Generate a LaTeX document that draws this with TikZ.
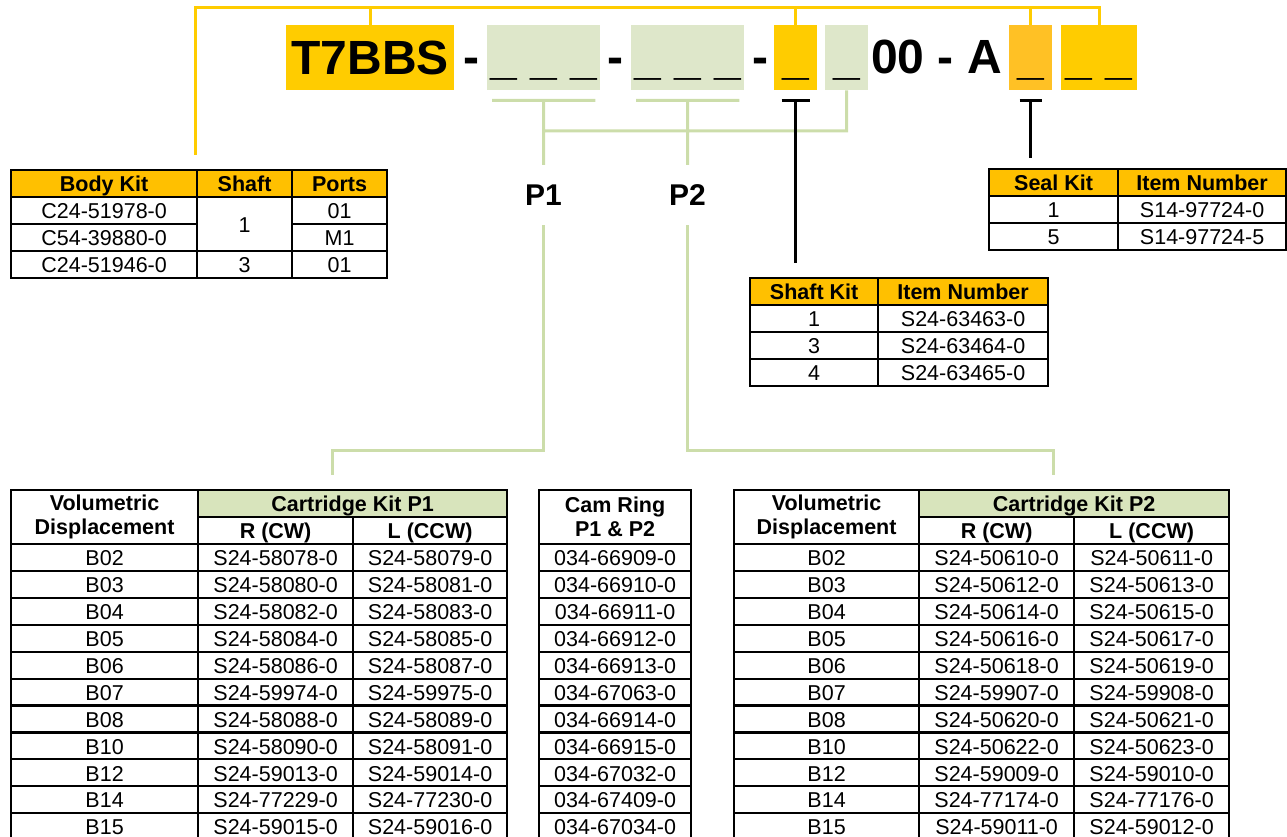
\documentclass[tikz,border=0pt]{standalone}
\usepackage{fontspec}
\setmainfont{Liberation Sans}

\definecolor{kitgold}{HTML}{FFC000}
\definecolor{codegold}{HTML}{FFCC00}
\definecolor{sealgold}{HTML}{FFC125}
\definecolor{codegreen}{HTML}{DEE7CA}
\definecolor{headgreen}{HTML}{D8E4BC}
\definecolor{wiregreen}{HTML}{CCDDAA}

\tikzset{
	cell/.style={draw, line width=2.2pt, anchor=north west, minimum height=27pt, inner sep=0pt, align=center, font=\fontsize{21.5pt}{24pt}\selectfont},
	fixcell/.style={cell, text height=16.5pt, text depth=0pt},
	rowcell/.style={fixcell, minimum height=26.9pt},
	boldcell/.style={fixcell, font=\fontsize{21.5pt}{24pt}\selectfont\bfseries},
	twolinecell/.style={cell, minimum height=54pt, font=\fontsize{21.5pt}{24pt}\selectfont\bfseries},
	headcell/.style={boldcell, fill=kitgold},
	greencell/.style={boldcell, fill=headgreen},
	codebox/.style={anchor=north west, minimum height=65pt, inner sep=0pt, text height=33pt, text depth=0pt, font=\fontsize{48pt}{50pt}\selectfont\bfseries},
	codetext/.style={inner sep=0pt, text height=33pt, text depth=0pt, font=\fontsize{48pt}{50pt}\selectfont\bfseries},
	plabel/.style={inner sep=0pt, minimum height=60pt, font=\fontsize{30pt}{32pt}\selectfont\bfseries},
	goldwire/.style={codegold, line width=3pt},
	greenwire/.style={wiregreen, line width=3pt},
	blackwire/.style={black, line width=2.5pt}
}

\begin{document}
\begin{tikzpicture}[x=1pt, y=-1pt]
	\useasboundingbox (0,0) rectangle (1287,837);

	% model code
	\node[codebox, fill=codegold, minimum width=168pt]	(t7bbs)		at (286,25)		{T7BBS};
	\node[codetext]										(dasha)		at (471.5,57.5)	{-};
	\node[codebox, fill=codegreen, minimum width=113pt]	(pone)		at (487,25)		{\_ \_ \_};
	\node[codetext]										(dashb)		at (615.5,57.5)	{-};
	\node[codebox, fill=codegreen, minimum width=113pt]	(ptwo)		at (631,25)		{\_ \_ \_};
	\node[codetext]										(dashc)		at (760.5,57.5)	{-};
	\node[codebox, fill=codegold, minimum width=43pt]	(shaftsel)	at (774,25)		{\_};
	\node[codebox, fill=codegreen, minimum width=43pt]	(ringsel)	at (825,25)		{\_};
	\node[codetext]										(midcode)	at (936.5,57.5)	{00 - A};
	\node[codebox, fill=sealgold, minimum width=43pt]	(sealsel)	at (1009,25)	{\_};
	\node[codebox, fill=codegold, minimum width=76pt]	(tailsel)	at (1061,25)	{\_ \_};

	\node[plabel]	(ponelbl)	at (543.5,195)	{P1};
	\node[plabel]	(ptwolbl)	at (687.5,195)	{P2};

	% connectors
	\coordinate (ybar)		at (0,8);
	\coordinate (bodytop)	at (195,155);
	\draw[goldwire]	(bodytop) |- (tailsel.north |- ybar) -- (tailsel.north)
					(t7bbs.north) -- (t7bbs.north |- ybar)
					(shaftsel.north) -- (shaftsel.north |- ybar)
					(sealsel.north) -- (sealsel.north |- ybar);

	\coordinate (gbus)		at (0,131);
	\coordinate (ponefoot)	at (332,475);
	\coordinate (ptwofoot)	at (1053,475);
	\draw[greenwire]	([xshift=5pt,yshift=-10pt]pone.south west) to ([xshift=-5pt,yshift=-10pt]pone.south east)
						([xshift=5pt,yshift=-10pt]ptwo.south west) to ([xshift=-5pt,yshift=-10pt]ptwo.south east)
						([yshift=-10pt]pone.south) to (ponelbl.north)
						([yshift=-10pt]ptwo.south) to (ptwolbl.north)
						(ringsel.south) |- (ponelbl.north |- gbus);
	\draw[greenwire]	(ponelbl.south) |- ([yshift=25pt]ponefoot) to (ponefoot);
	\draw[greenwire]	(ptwolbl.south) |- ([yshift=25pt]ptwofoot) to (ptwofoot);

	\coordinate (shafttee)	at ([yshift=-10pt]shaftsel.south);
	\coordinate (shaftfoot)	at (shafttee |- 0,263);
	\coordinate (sealtee)	at ([yshift=-10pt]sealsel.south);
	\coordinate (sealfoot)	at (sealtee |- 0,158);
	\draw[blackwire]	(shafttee) ++(-14,0) to ++(28,0)
						(shafttee) to (shaftfoot)
						(sealtee) ++(-11,0) to ++(22,0)
						(sealtee) to (sealfoot);

	% body kit
	\node[headcell, minimum width=186pt]	(bodyhead)	at (10,169)		{Body Kit};
	\node[headcell, minimum width=95pt]		(shafthead)	at (196,169)	{Shaft};
	\node[headcell, minimum width=95pt]		(portshead)	at (291,169)	{Ports};
	\node[fixcell, minimum width=186pt]		(bodya)		at (10,196)		{C24-51978-0};
	\node[fixcell, minimum width=186pt]		(bodyb)		at (10,223)		{C54-39880-0};
	\node[fixcell, minimum width=186pt]		(bodyc)		at (10,250)		{C24-51946-0};
	\node[fixcell, minimum width=95pt, minimum height=54pt]	(shaftab)	at (196,196)	{1};
	\node[fixcell, minimum width=95pt]		(shaftc)	at (196,250)	{3};
	\node[fixcell, minimum width=95pt]		(portsa)	at (291,196)	{01};
	\node[fixcell, minimum width=95pt]		(portsb)	at (291,223)	{M1};
	\node[fixcell, minimum width=95pt]		(portsc)	at (291,250)	{01};

	% seal kit
	\node[headcell, minimum width=129pt]	(sealhead)	at (988,168)	{Seal Kit};
	\node[headcell, minimum width=168pt]	(sealitem)	at (1117,168)	{Item Number};
	\node[fixcell, minimum width=129pt]		(seala)		at (988,195)	{1};
	\node[fixcell, minimum width=168pt]		(sealnra)	at (1117,195)	{S14-97724-0};
	\node[fixcell, minimum width=129pt]		(sealb)		at (988,222)	{5};
	\node[fixcell, minimum width=168pt]		(sealnrb)	at (1117,222)	{S14-97724-5};

	% shaft kit
	\node[headcell, minimum width=128pt]	(shaftkit)	at (749,277)	{Shaft Kit};
	\node[headcell, minimum width=170pt]	(shaftitem)	at (877,277)	{Item Number};
	\node[fixcell, minimum width=128pt]		(shafta)	at (749,304)	{1};
	\node[fixcell, minimum width=170pt]		(shaftnra)	at (877,304)	{S24-63463-0};
	\node[fixcell, minimum width=128pt]		(shaftb)	at (749,331)	{3};
	\node[fixcell, minimum width=170pt]		(shaftnrb)	at (877,331)	{S24-63464-0};
	\node[fixcell, minimum width=128pt]		(shaftd)	at (749,358)	{4};
	\node[fixcell, minimum width=170pt]		(shaftnrd)	at (877,358)	{S24-63465-0};

	% cartridge kits and cam ring
	\node[twolinecell, minimum width=187pt]	(onevd)		at (10,489)		{Volumetric\\Displacement};
	\node[greencell, minimum width=309pt]	(onekit)	at (197,489)	{Cartridge Kit P1};
	\node[boldcell, minimum width=155pt]	(onecw)		at (197,516)	{R (CW)};
	\node[boldcell, minimum width=154pt]	(oneccw)	at (352,516)	{L (CCW)};
	\node[twolinecell, minimum width=152pt]	(camhead)	at (538,489)	{Cam Ring\\P1 \& P2};
	\node[twolinecell, minimum width=185pt]	(twovd)		at (733,489)	{Volumetric\\Displacement};
	\node[greencell, minimum width=310pt]	(twokit)	at (918,489)	{Cartridge Kit P2};
	\node[boldcell, minimum width=155pt]	(twocw)		at (918,516)	{R (CW)};
	\node[boldcell, minimum width=155pt]	(twoccw)	at (1073,516)	{L (CCW)};

	\foreach \vd/\ra/\la/\cam/\rb/\lb [count=\i from 0] in {
		B02/S24-58078-0/S24-58079-0/034-66909-0/S24-50610-0/S24-50611-0,
		B03/S24-58080-0/S24-58081-0/034-66910-0/S24-50612-0/S24-50613-0,
		B04/S24-58082-0/S24-58083-0/034-66911-0/S24-50614-0/S24-50615-0,
		B05/S24-58084-0/S24-58085-0/034-66912-0/S24-50616-0/S24-50617-0,
		B06/S24-58086-0/S24-58087-0/034-66913-0/S24-50618-0/S24-50619-0,
		B07/S24-59974-0/S24-59975-0/034-67063-0/S24-59907-0/S24-59908-0,
		B08/S24-58088-0/S24-58089-0/034-66914-0/S24-50620-0/S24-50621-0,
		B10/S24-58090-0/S24-58091-0/034-66915-0/S24-50622-0/S24-50623-0,
		B12/S24-59013-0/S24-59014-0/034-67032-0/S24-59009-0/S24-59010-0,
		B14/S24-77229-0/S24-77230-0/034-67409-0/S24-77174-0/S24-77176-0,
		B15/S24-59015-0/S24-59016-0/034-67034-0/S24-59011-0/S24-59012-0}
	{
		\node[rowcell, minimum width=187pt]	(onevd\i)	at (10,543+26.9*\i)		{\vd};
		\node[rowcell, minimum width=155pt]	(onecw\i)	at (197,543+26.9*\i)	{\ra};
		\node[rowcell, minimum width=154pt]	(oneccw\i)	at (352,543+26.9*\i)	{\la};
		\node[rowcell, minimum width=152pt]	(cam\i)		at (538,543+26.9*\i)	{\cam};
		\node[rowcell, minimum width=185pt]	(twovd\i)	at (733,543+26.9*\i)	{\vd};
		\node[rowcell, minimum width=155pt]	(twocw\i)	at (918,543+26.9*\i)	{\rb};
		\node[rowcell, minimum width=155pt]	(twoccw\i)	at (1073,543+26.9*\i)	{\lb};
	}
\end{tikzpicture}
\end{document}
